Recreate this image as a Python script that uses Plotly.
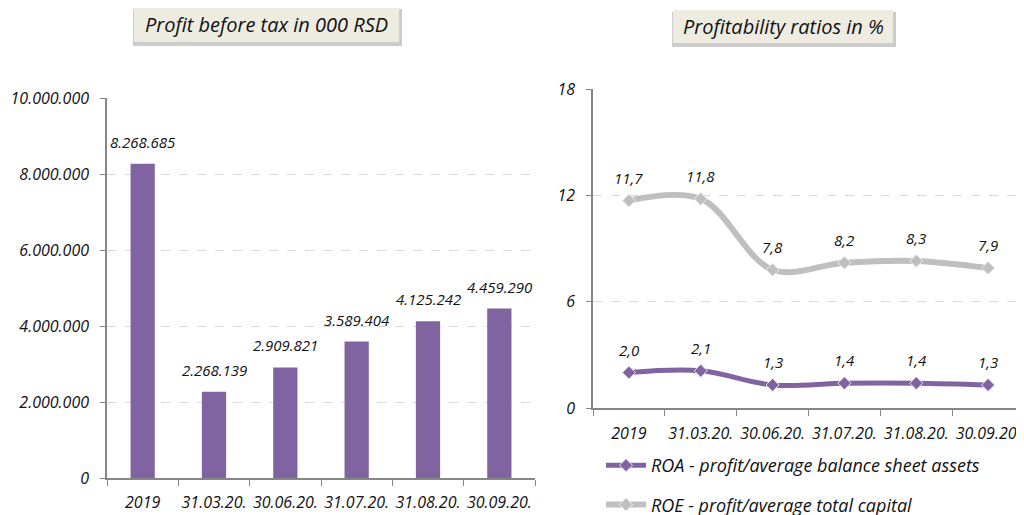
import plotly.graph_objects as go

# Podaci
periods = ["2019", "31.03.20.", "30.06.20.", "31.07.20.", "31.08.20.", "30.09.20."]
profit = [8268685, 2268139, 2909821, 3589404, 4125242, 4459290]
roa = [2.0, 2.1, 1.3, 1.4, 1.4, 1.3]
roe = [11.7, 11.8, 7.8, 8.2, 8.3, 7.9]
profit_ticks = [0, 2000000, 4000000, 6000000, 8000000, 10000000]
ratio_ticks = [0, 6, 12, 18]

PURPLE = "#8064A2"
GREY = "#BFBFBF"
FONT = "Open Sans"

# stranica ima marginu od 8px, pa je figura manja
W, H, OFF = 1016, 507, 8


def px(x):
    return (x - OFF) / W


def py(y):
    return 1 - (y - OFF) / H


def fmt_int(v):
    return f"{v:,.0f}".replace(",", ".")


def fmt_dec(v):
    return f"{v:.1f}".replace(".", ",")


fig = go.Figure()

# Dobit pre oporezivanja
fig.add_trace(go.Bar(
    x=periods,
    y=profit,
    marker=dict(color=PURPLE, line=dict(width=0)),
    xaxis="x",
    yaxis="y",
    showlegend=False,
    hoverinfo="skip",
))

# ROA / ROE
fig.add_trace(go.Scatter(
    x=periods,
    y=roa,
    mode="lines+markers",
    name="<i>ROA - profit/average balance sheet assets</i>",
    line=dict(color=PURPLE, width=5, shape="spline", smoothing=1),
    marker=dict(symbol="diamond", size=10, color=PURPLE, line=dict(color="#E8E0F0", width=1)),
    xaxis="x2",
    yaxis="y2",
    legendgroup="roa",
))
fig.add_trace(go.Scatter(
    x=periods,
    y=roe,
    mode="lines+markers",
    name="<i>ROE - profit/average total capital</i>",
    line=dict(color=GREY, width=6, shape="spline", smoothing=1),
    marker=dict(symbol="diamond", size=10, color=GREY, line=dict(color="#EEEEEE", width=1)),
    xaxis="x2",
    yaxis="y2",
    legendgroup="roe",
))

# oznake vrednosti (x kao indeks kategorije)
label_font = dict(family=FONT, size=15, color="#111")
annotations = []
for i, v in enumerate(profit):
    annotations.append(dict(
        x=i, y=v, xref="x", yref="y", text=f"<i>{fmt_int(v)}</i>", showarrow=False,
        yshift=22, font=label_font,
    ))
for series in (roa, roe):
    for i, v in enumerate(series):
        annotations.append(dict(
            x=i, y=v, xref="x2", yref="y2", text=f"<i>{fmt_dec(v)}</i>", showarrow=False,
            yshift=23, font=label_font,
        ))

# naslovi u okvirima
titles = [
    ("Profit before tax in 000 RSD", 134, 399, 7, 42),
    ("Profitability ratios in %", 673, 893, 10, 43),
]
shapes = []
for text, x0, x1, y0, y1 in titles:
    shapes.append(dict(
        type="rect", xref="paper", yref="paper", layer="above",
        x0=px(x0 - 1), x1=px(x1 + 3), y0=py(y1 + 4), y1=py(y0 + 2),
        fillcolor="rgba(110,110,110,0.35)", line=dict(width=0),
    ))
    shapes.append(dict(
        type="rect", xref="paper", yref="paper", layer="above",
        x0=px(x0), x1=px(x1), y0=py(y1), y1=py(y0),
        fillcolor="#EEECE1", line=dict(width=0),
    ))
    annotations.append(dict(
        x=px((x0 + x1) / 2), y=py((y0 + y1) / 2),
        xref="paper", yref="paper", xanchor="center", yanchor="middle",
        text=f"<i>{text}</i>", showarrow=False,
        font=dict(family=FONT, size=20, color="#111"),
    ))

axis_line = "#868686"
grid = "#D9D9D9"
tickfont = dict(family=FONT, size=16, color="#111")

fig.update_layout(
    width=W,
    height=H,
    margin=dict(l=0, r=0, t=0, b=0, autoexpand=False),
    paper_bgcolor="white",
    plot_bgcolor="white",
    font=dict(family=FONT),
    bargap=0.66,
    shapes=shapes,
    annotations=annotations,
    xaxis=dict(
        domain=[px(107), px(535)],
        type="category",
        range=[-0.5, 5.5],
        tickson="boundaries",
        ticks="outside",
        ticklen=6,
        tickcolor=axis_line,
        showline=True,
        linecolor=axis_line,
        linewidth=1.5,
        showgrid=False,
        tickfont=tickfont,
        tickangle=0,
        ticklabelstandoff=9,
        tickprefix="<i>",
        ticksuffix="</i>",
    ),
    yaxis=dict(
        domain=[py(478), py(98)],
        range=[0, 10000000],
        tickvals=profit_ticks,
        ticktext=[f"<i>{fmt_int(t)}</i>" for t in profit_ticks],
        ticks="outside",
        ticklen=5,
        tickcolor=axis_line,
        showline=True,
        linecolor=axis_line,
        linewidth=1.5,
        gridcolor=grid,
        griddash="dash",
        zeroline=False,
        tickfont=tickfont,
        ticklabelstandoff=8,
    ),
    xaxis2=dict(
        domain=[px(593), 1.0],
        type="category",
        range=[-0.5, 5.5],
        anchor="y2",
        tickson="boundaries",
        ticks="outside",
        ticklen=6,
        tickcolor=axis_line,
        showline=True,
        linecolor=axis_line,
        linewidth=1.5,
        showgrid=False,
        tickfont=tickfont,
        tickangle=0,
        ticklabelstandoff=10,
        tickprefix="<i>",
        ticksuffix="</i>",
    ),
    yaxis2=dict(
        domain=[py(408), py(89)],
        anchor="x2",
        range=[0, 18],
        tickvals=ratio_ticks,
        ticktext=[f"<i>{t}</i>" for t in ratio_ticks],
        ticks="outside",
        ticklen=5,
        tickcolor=axis_line,
        showline=True,
        linecolor=axis_line,
        linewidth=1.5,
        gridcolor=grid,
        griddash="dash",
        zeroline=False,
        tickfont=tickfont,
        ticklabelstandoff=8,
    ),
    legend=dict(
        x=px(601),
        y=py(447),
        xanchor="left",
        yanchor="top",
        orientation="v",
        tracegroupgap=13,
        font=dict(family=FONT, size=18, color="#111"),
        bgcolor="rgba(0,0,0,0)",
        itemwidth=40,
    ),
)

fig.write_html("out.html")
